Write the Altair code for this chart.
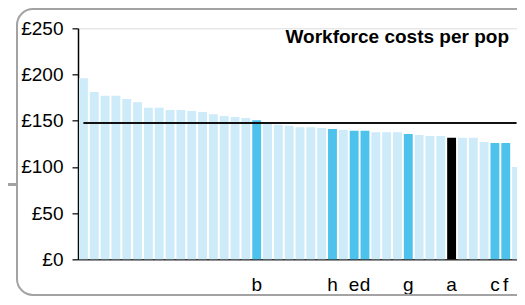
import json
import altair as alt
import pandas as pd

# ---- data ----
values = [196, 181, 177, 177, 173.5, 170, 164, 164, 161.5, 161.5, 160.5, 159.5,
          157, 155, 154, 153, 150.5, 147.5, 145.5, 144.5, 143, 143, 142, 141,
          140, 139, 139, 137.5, 137.5, 137.5, 135.5, 134.5, 133.5, 133.5, 131.5,
          131.5, 131.5, 127, 126, 126, 100]
labels = ["", "", "", "", "", "", "", "", "", "", "", "", "", "", "", "",
          "b", "", "", "", "", "", "", "h", "", "e", "d", "", "", "", "g",
          "", "", "", "a", "", "", "", "c", "f", ""]
kinds = ["other"] * 16 + ["highlight"] + ["other"] * 6 + ["highlight", "other",
         "highlight", "highlight", "other", "other", "other", "highlight",
         "other", "other", "other", "selected", "other", "other", "other",
         "highlight", "highlight", "other"]
benchmark = 147.5
y_ticks = [0, 50, 100, 150, 200, 250]
title_text = "Workforce costs per pop"

FONT = "Liberation Sans"
LIGHT = "#cdebf8"
MID = "#4cc2ec"
GREY = "#a3a3a3"

df = pd.DataFrame({"id": list(range(len(values))), "value": values,
                   "label": labels, "kind": kinds})

label_expr = json.dumps(labels) + "[datum.value]"

x_enc = alt.X("id:O", sort=None,
              scale=alt.Scale(paddingInner=0.18, paddingOuter=0.09),
              axis=alt.Axis(title=None, labelExpr=label_expr, labelAngle=0,
                            ticks=False, labelFontSize=19, labelFont=FONT,
                            labelColor="#000", labelPadding=16.5,
                            domainColor="#333", domainWidth=1.5))

y_enc = alt.Y("value:Q",
              scale=alt.Scale(domain=[0, 250], nice=False),
              axis=alt.Axis(title=None, values=y_ticks, grid=False,
                            labelExpr="'£' + datum.value",
                            labelFontSize=19, labelFont=FONT, labelColor="#000",
                            labelPadding=9, tickSize=6, tickColor="#333",
                            tickWidth=1.5, domainColor="#000", domainWidth=1.5))

bars = alt.Chart(df).mark_bar().encode(
    x=x_enc,
    y=y_enc,
    color=alt.Color("kind:N",
                    scale=alt.Scale(domain=["other", "highlight", "selected"],
                                    range=[LIGHT, MID, "#000000"]),
                    legend=None),
)

line = alt.Chart(df).mark_line(color="#111", strokeWidth=2.2).encode(
    x=alt.X("id:O", sort=None),
    y=alt.datum(benchmark),
)

one = pd.DataFrame({"k": [0]})

border = alt.Chart(one).mark_rect(filled=False, stroke=GREY, strokeWidth=2,
                                  cornerRadius=16).encode(
    x=alt.value(-61), x2=alt.value(470), y=alt.value(-19.3), y2=alt.value(266.7))

connector = alt.Chart(one).mark_rule(color=GREY, strokeWidth=3).encode(
    x=alt.value(-72), x2=alt.value(-61), y=alt.value(156.2))

title = alt.Chart(pd.DataFrame({"t": [title_text]})).mark_text(
    font=FONT, fontSize=19, fontWeight="bold", color="#000", align="right",
    baseline="alphabetic").encode(
    text="t:N", x=alt.value(431), y=alt.value(14.4))

chart = alt.layer(border, connector, bars, line, title).properties(
    width=444, height=231,
    autosize=alt.AutoSizeParams(type="none"),
    padding={"left": 70, "top": 20.3, "right": -5, "bottom": 37.7},
).configure_view(stroke=None).configure(font=FONT)

chart.save("out.html", embed_options={"renderer": "svg", "actions": False})
